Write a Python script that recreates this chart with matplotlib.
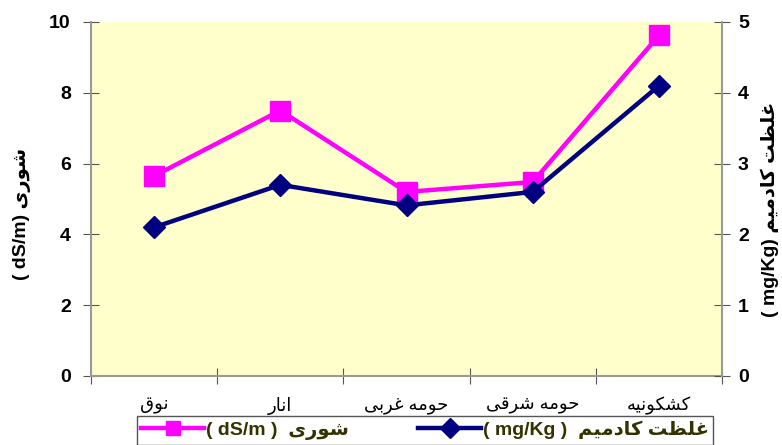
import matplotlib.pyplot as plt
import numpy as np

# Arabic/Persian strings are written in presentation forms, visual order,
# because matplotlib does no shaping or bidi on its own.
sites = ["\ufed5\ufeee\ufee7",                                          # نوق
         "\ufead\ufe8e\ufee7\ufe8d",                                    # انار
         "\ufef0\ufe91\ufeae\ufecf \ufeea\ufee3\ufeee\ufea3",           # حومه غربی
         "\ufef0\ufed7\ufeae\ufeb7 \ufeea\ufee3\ufeee\ufea3",           # حومه شرقی
         "\ufeea\ufef4\ufee7\ufeee\ufedc\ufeb8\ufedb"]                  # کشکونیه
salinity = [5.65, 7.5, 5.2, 5.48, 9.62]        # dS/m
cadmium = [2.1, 2.7, 2.41, 2.6, 4.1]           # mg/Kg

shoori = "\ufeef\ufead\ufeee\ufeb7"                                     # شوری
cad_txt = "\ufee2\ufef4\ufee3\ufea9\ufe8e\ufedb \ufe96\ufec8\ufee0\ufecf"  # غلظت کادمیم

fonts = ["Liberation Sans", "DejaVu Sans"]
plt.rcParams["font.family"] = fonts

fig = plt.figure(figsize=(7.82, 4.45), dpi=100)
ax = fig.add_axes([91 / 782, 69 / 445, 631 / 782, 354 / 445])
ax2 = ax.twinx()
ax.set_facecolor("#ffffcc")

x = np.arange(len(sites)) + 0.5
l1, = ax.plot(x, salinity, color="#ff00ff", lw=3.2, marker="s", ms=14,
              zorder=3)
l2, = ax2.plot(x, cadmium, color="#000080", lw=3.2, marker="D", ms=11,
               zorder=3)

ax.set_xlim(0, len(sites))
ax.set_ylim(0, 10)
ax2.set_ylim(0, 5)
ax.set_yticks(np.arange(0, 11, 2))
ax2.set_yticks(np.arange(0, 6, 1))

ax.set_xticks(np.arange(0, len(sites) + 1))
ax.set_xticklabels([])
ax.set_xticks(x, minor=True)
ax.set_xticklabels(sites, minor=True, fontsize=13, family=fonts)
ax.tick_params(axis="x", which="minor", length=0, pad=15)
ax.tick_params(axis="x", which="major", direction="inout", length=11,
               color="#555555")

for a in (ax, ax2):
    for s in a.spines.values():
        s.set_visible(False)
ax.spines["left"].set_visible(True)
ax.spines["bottom"].set_visible(True)
ax2.spines["right"].set_visible(True)
for s in (ax.spines["left"], ax.spines["bottom"], ax2.spines["right"]):
    s.set_color("#999999")
    s.set_linewidth(1.5)

ax.tick_params(axis="y", direction="inout", length=11, color="#555555",
               labelsize=14, pad=9)
ax2.tick_params(axis="y", direction="inout", length=11, color="#555555",
                labelsize=14, pad=6)
for lab in ax.get_yticklabels() + ax2.get_yticklabels():
    lab.set_fontweight("bold")

fig.text(22 / 782, 0.52, "( dS/m) " + shoori, rotation=90, ha="center",
         va="center", fontsize=14, fontweight="bold", family=fonts)
fig.text(770 / 782, 0.53, "( mg/Kg) " + cad_txt, rotation=90, ha="center",
         va="center", fontsize=14, fontweight="bold", family=fonts)

leg = fig.legend([l1, l2], ["( dS/m )  " + shoori, "( mg/Kg )  " + cad_txt],
                 loc="upper center", bbox_to_anchor=(425 / 782, 1 - 416 / 445),
                 ncol=2, fancybox=False, edgecolor="#555555", framealpha=1,
                 handlelength=3.2, handletextpad=0.1, columnspacing=3.6,
                 borderpad=0.25, borderaxespad=0,
                 prop={"family": fonts, "size": 14, "weight": "bold"})
leg.get_frame().set_linewidth(1)
for t in leg.get_texts():
    t.set_color("#333300")
for h in leg.legend_handles:
    h.set_markersize(10)

fig.savefig("out.png", dpi=100)
